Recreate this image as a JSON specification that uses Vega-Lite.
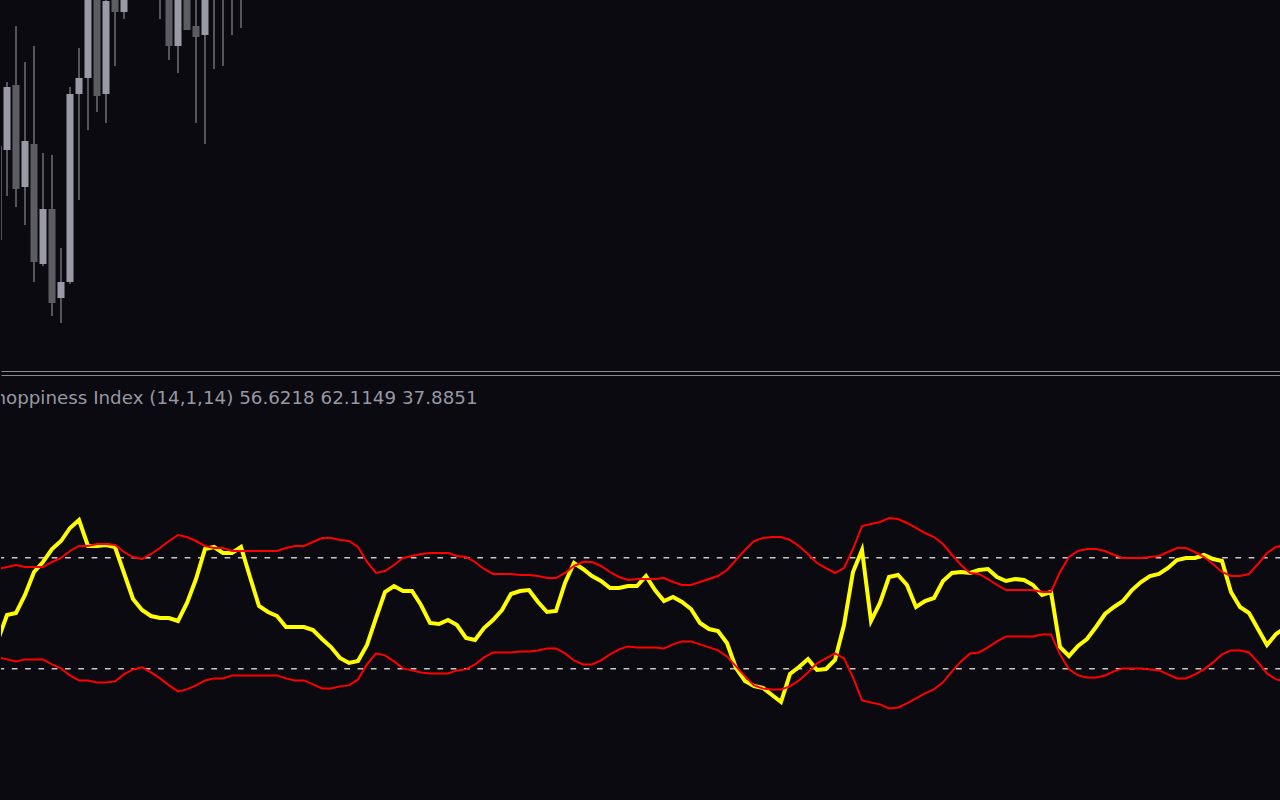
{
  "$schema": "https://vega.github.io/schema/vega-lite/v6.json",
  "background": "#0a0a10",
  "padding": 0,
  "spacing": 4,
  "bounds": "flush",
  "config": {"view": {"stroke": null}, "scale": {"continuousPadding": 0}},
  "datasets": {
    "candles": [
      {"i": -1, "open": 1.09260, "high": 1.09360, "low": 1.09255, "close": 1.09354},
      {"i": 0, "open": 1.09350, "high": 1.09418, "low": 1.09304, "close": 1.09413},
      {"i": 1, "open": 1.09415, "high": 1.09474, "low": 1.09293, "close": 1.09311},
      {"i": 2, "open": 1.09313, "high": 1.09438, "low": 1.09275, "close": 1.09359},
      {"i": 3, "open": 1.09356, "high": 1.09454, "low": 1.09218, "close": 1.09238},
      {"i": 4, "open": 1.09236, "high": 1.09347, "low": 1.09234, "close": 1.09291},
      {"i": 5, "open": 1.09291, "high": 1.09345, "low": 1.09184, "close": 1.09197},
      {"i": 6, "open": 1.09202, "high": 1.09252, "low": 1.09177, "close": 1.09218},
      {"i": 7, "open": 1.09218, "high": 1.09413, "low": 1.09216, "close": 1.09406},
      {"i": 8, "open": 1.09406, "high": 1.09452, "low": 1.09300, "close": 1.09422},
      {"i": 9, "open": 1.09422, "high": 1.09540, "low": 1.09370, "close": 1.09520},
      {"i": 10, "open": 1.09530, "high": 1.09560, "low": 1.09388, "close": 1.09404},
      {"i": 11, "open": 1.09406, "high": 1.09510, "low": 1.09377, "close": 1.09499},
      {"i": 12, "open": 1.09520, "high": 1.09540, "low": 1.09434, "close": 1.09488},
      {"i": 13, "open": 1.09488, "high": 1.09530, "low": 1.09481, "close": 1.09515},
      {"i": 14, "open": 1.09540, "high": 1.09600, "low": 1.09520, "close": 1.09580},
      {"i": 15, "open": 1.09580, "high": 1.09610, "low": 1.09530, "close": 1.09560},
      {"i": 16, "open": 1.09560, "high": 1.09620, "low": 1.09540, "close": 1.09590},
      {"i": 17, "open": 1.09560, "high": 1.09580, "low": 1.09481, "close": 1.09520},
      {"i": 18, "open": 1.09560, "high": 1.09580, "low": 1.09440, "close": 1.09454},
      {"i": 19, "open": 1.09454, "high": 1.09560, "low": 1.09427, "close": 1.09540},
      {"i": 20, "open": 1.09560, "high": 1.09580, "low": 1.09470, "close": 1.09470},
      {"i": 21, "open": 1.09474, "high": 1.09520, "low": 1.09377, "close": 1.09463},
      {"i": 22, "open": 1.09465, "high": 1.09550, "low": 1.09356, "close": 1.09530},
      {"i": 23, "open": 1.09540, "high": 1.09580, "low": 1.09431, "close": 1.09560},
      {"i": 24, "open": 1.09580, "high": 1.09600, "low": 1.09434, "close": 1.09550},
      {"i": 25, "open": 1.09560, "high": 1.09610, "low": 1.09465, "close": 1.09590},
      {"i": 26, "open": 1.09590, "high": 1.09620, "low": 1.09472, "close": 1.09570}
    ],
    "chop": [
      {"i": -1, "ci": 44.30, "up": 59.40, "dn": 40.60},
      {"i": 0, "ci": 49.62, "up": 59.82, "dn": 40.18},
      {"i": 1, "ci": 50.04, "up": 60.25, "dn": 39.75},
      {"i": 2, "ci": 53.87, "up": 59.82, "dn": 40.18},
      {"i": 3, "ci": 58.76, "up": 59.82, "dn": 40.18},
      {"i": 4, "ci": 60.89, "up": 59.82, "dn": 40.18},
      {"i": 5, "ci": 63.65, "up": 60.89, "dn": 39.11},
      {"i": 6, "ci": 65.35, "up": 61.74, "dn": 38.26},
      {"i": 7, "ci": 68.12, "up": 63.23, "dn": 36.77},
      {"i": 8, "ci": 69.82, "up": 64.29, "dn": 35.71},
      {"i": 9, "ci": 64.29, "up": 64.29, "dn": 35.71},
      {"i": 10, "ci": 64.29, "up": 64.71, "dn": 35.29},
      {"i": 11, "ci": 64.50, "up": 64.71, "dn": 35.29},
      {"i": 12, "ci": 64.08, "up": 64.50, "dn": 35.50},
      {"i": 13, "ci": 58.55, "up": 63.01, "dn": 36.99},
      {"i": 14, "ci": 53.02, "up": 61.95, "dn": 38.05},
      {"i": 15, "ci": 50.68, "up": 61.52, "dn": 38.48},
      {"i": 16, "ci": 49.40, "up": 62.59, "dn": 37.41},
      {"i": 17, "ci": 48.98, "up": 63.86, "dn": 36.14},
      {"i": 18, "ci": 48.98, "up": 65.35, "dn": 34.65},
      {"i": 19, "ci": 48.34, "up": 66.63, "dn": 33.37},
      {"i": 20, "ci": 52.17, "up": 66.20, "dn": 33.80},
      {"i": 21, "ci": 57.27, "up": 65.35, "dn": 34.65},
      {"i": 22, "ci": 63.65, "up": 64.29, "dn": 35.71},
      {"i": 23, "ci": 64.08, "up": 63.86, "dn": 36.14},
      {"i": 24, "ci": 62.80, "up": 63.86, "dn": 36.14},
      {"i": 25, "ci": 62.80, "up": 63.23, "dn": 36.77},
      {"i": 26, "ci": 64.08, "up": 63.23, "dn": 36.77},
      {"i": 27, "ci": 57.70, "up": 63.23, "dn": 36.77},
      {"i": 28, "ci": 51.53, "up": 63.23, "dn": 36.77},
      {"i": 29, "ci": 50.26, "up": 63.23, "dn": 36.77},
      {"i": 30, "ci": 49.40, "up": 63.23, "dn": 36.77},
      {"i": 31, "ci": 47.07, "up": 63.86, "dn": 36.14},
      {"i": 32, "ci": 47.07, "up": 64.29, "dn": 35.71},
      {"i": 33, "ci": 47.07, "up": 64.29, "dn": 35.71},
      {"i": 34, "ci": 46.43, "up": 65.14, "dn": 34.86},
      {"i": 35, "ci": 44.51, "up": 65.99, "dn": 34.01},
      {"i": 36, "ci": 42.81, "up": 65.99, "dn": 34.01},
      {"i": 37, "ci": 40.47, "up": 65.56, "dn": 34.44},
      {"i": 38, "ci": 39.41, "up": 65.35, "dn": 34.65},
      {"i": 39, "ci": 39.84, "up": 64.08, "dn": 35.92},
      {"i": 40, "ci": 43.24, "up": 60.89, "dn": 39.11},
      {"i": 41, "ci": 48.98, "up": 58.55, "dn": 41.45},
      {"i": 42, "ci": 54.51, "up": 58.97, "dn": 41.03},
      {"i": 43, "ci": 55.78, "up": 60.25, "dn": 39.75},
      {"i": 44, "ci": 54.72, "up": 61.74, "dn": 38.26},
      {"i": 45, "ci": 54.72, "up": 62.16, "dn": 37.84},
      {"i": 46, "ci": 51.74, "up": 62.59, "dn": 37.41},
      {"i": 47, "ci": 47.92, "up": 62.80, "dn": 37.20},
      {"i": 48, "ci": 47.70, "up": 62.80, "dn": 37.20},
      {"i": 49, "ci": 48.55, "up": 62.80, "dn": 37.20},
      {"i": 50, "ci": 47.49, "up": 62.16, "dn": 37.84},
      {"i": 51, "ci": 44.73, "up": 61.95, "dn": 38.05},
      {"i": 52, "ci": 44.30, "up": 60.89, "dn": 39.11},
      {"i": 53, "ci": 46.85, "up": 59.40, "dn": 40.60},
      {"i": 54, "ci": 48.55, "up": 58.34, "dn": 41.66},
      {"i": 55, "ci": 50.68, "up": 58.34, "dn": 41.66},
      {"i": 56, "ci": 54.08, "up": 58.34, "dn": 41.66},
      {"i": 57, "ci": 54.72, "up": 58.12, "dn": 41.88},
      {"i": 58, "ci": 54.93, "up": 58.12, "dn": 41.88},
      {"i": 59, "ci": 52.38, "up": 57.91, "dn": 42.09},
      {"i": 60, "ci": 50.26, "up": 57.48, "dn": 42.52},
      {"i": 61, "ci": 50.47, "up": 57.48, "dn": 42.52},
      {"i": 62, "ci": 56.42, "up": 58.55, "dn": 41.45},
      {"i": 63, "ci": 60.67, "up": 60.04, "dn": 39.96},
      {"i": 64, "ci": 59.40, "up": 60.89, "dn": 39.11},
      {"i": 65, "ci": 57.91, "up": 60.89, "dn": 39.11},
      {"i": 66, "ci": 56.85, "up": 60.04, "dn": 39.96},
      {"i": 67, "ci": 55.36, "up": 58.76, "dn": 41.24},
      {"i": 68, "ci": 55.36, "up": 57.70, "dn": 42.30},
      {"i": 69, "ci": 55.78, "up": 57.06, "dn": 42.94},
      {"i": 70, "ci": 55.78, "up": 57.27, "dn": 42.73},
      {"i": 71, "ci": 57.91, "up": 57.27, "dn": 42.73},
      {"i": 72, "ci": 54.93, "up": 57.27, "dn": 42.73},
      {"i": 73, "ci": 52.59, "up": 57.48, "dn": 42.52},
      {"i": 74, "ci": 53.44, "up": 56.63, "dn": 43.37},
      {"i": 75, "ci": 52.38, "up": 56.00, "dn": 44.00},
      {"i": 76, "ci": 50.89, "up": 56.00, "dn": 44.00},
      {"i": 77, "ci": 47.92, "up": 56.63, "dn": 43.37},
      {"i": 78, "ci": 46.64, "up": 57.27, "dn": 42.73},
      {"i": 79, "ci": 46.22, "up": 57.91, "dn": 42.09},
      {"i": 80, "ci": 43.66, "up": 59.19, "dn": 40.81},
      {"i": 81, "ci": 38.35, "up": 61.31, "dn": 38.69},
      {"i": 82, "ci": 35.58, "up": 63.44, "dn": 36.56},
      {"i": 83, "ci": 34.52, "up": 65.35, "dn": 34.65},
      {"i": 84, "ci": 34.10, "up": 65.99, "dn": 34.01},
      {"i": 85, "ci": 32.61, "up": 66.20, "dn": 33.80},
      {"i": 86, "ci": 31.12, "up": 66.20, "dn": 33.80},
      {"i": 87, "ci": 37.07, "up": 65.56, "dn": 34.44},
      {"i": 88, "ci": 38.56, "up": 64.29, "dn": 35.71},
      {"i": 89, "ci": 40.26, "up": 62.59, "dn": 37.41},
      {"i": 90, "ci": 37.92, "up": 60.67, "dn": 39.33},
      {"i": 91, "ci": 38.14, "up": 59.61, "dn": 40.39},
      {"i": 92, "ci": 40.05, "up": 58.55, "dn": 41.45},
      {"i": 93, "ci": 47.49, "up": 59.61, "dn": 40.39},
      {"i": 94, "ci": 58.76, "up": 63.65, "dn": 36.35},
      {"i": 95, "ci": 63.44, "up": 68.54, "dn": 31.46},
      {"i": 96, "ci": 48.34, "up": 68.97, "dn": 31.03},
      {"i": 97, "ci": 52.17, "up": 69.39, "dn": 30.61},
      {"i": 98, "ci": 57.70, "up": 70.24, "dn": 29.76},
      {"i": 99, "ci": 58.12, "up": 70.03, "dn": 29.97},
      {"i": 100, "ci": 56.00, "up": 69.18, "dn": 30.82},
      {"i": 101, "ci": 51.32, "up": 68.12, "dn": 31.88},
      {"i": 102, "ci": 52.59, "up": 67.05, "dn": 32.95},
      {"i": 103, "ci": 53.23, "up": 66.20, "dn": 33.80},
      {"i": 104, "ci": 56.85, "up": 64.71, "dn": 35.29},
      {"i": 105, "ci": 58.55, "up": 62.38, "dn": 37.62},
      {"i": 106, "ci": 58.76, "up": 60.25, "dn": 39.75},
      {"i": 107, "ci": 58.55, "up": 58.55, "dn": 41.45},
      {"i": 108, "ci": 59.19, "up": 58.34, "dn": 41.66},
      {"i": 109, "ci": 59.40, "up": 57.27, "dn": 42.73},
      {"i": 110, "ci": 57.70, "up": 56.00, "dn": 44.00},
      {"i": 111, "ci": 56.85, "up": 54.93, "dn": 45.07},
      {"i": 112, "ci": 57.27, "up": 54.93, "dn": 45.07},
      {"i": 113, "ci": 57.06, "up": 54.93, "dn": 45.07},
      {"i": 114, "ci": 56.00, "up": 54.93, "dn": 45.07},
      {"i": 115, "ci": 53.87, "up": 54.51, "dn": 45.49},
      {"i": 116, "ci": 54.51, "up": 54.51, "dn": 45.49},
      {"i": 117, "ci": 42.81, "up": 58.76, "dn": 41.24},
      {"i": 118, "ci": 40.90, "up": 61.95, "dn": 38.05},
      {"i": 119, "ci": 43.03, "up": 63.23, "dn": 36.77},
      {"i": 120, "ci": 44.51, "up": 63.65, "dn": 36.35},
      {"i": 121, "ci": 47.07, "up": 63.65, "dn": 36.35},
      {"i": 122, "ci": 49.83, "up": 63.23, "dn": 36.77},
      {"i": 123, "ci": 51.32, "up": 62.38, "dn": 37.62},
      {"i": 124, "ci": 52.59, "up": 61.74, "dn": 38.26},
      {"i": 125, "ci": 54.93, "up": 61.74, "dn": 38.26},
      {"i": 126, "ci": 56.63, "up": 61.74, "dn": 38.26},
      {"i": 127, "ci": 57.91, "up": 61.95, "dn": 38.05},
      {"i": 128, "ci": 58.34, "up": 62.16, "dn": 37.84},
      {"i": 129, "ci": 59.61, "up": 63.01, "dn": 36.99},
      {"i": 130, "ci": 61.31, "up": 63.86, "dn": 36.14},
      {"i": 131, "ci": 61.74, "up": 63.86, "dn": 36.14},
      {"i": 132, "ci": 61.74, "up": 63.01, "dn": 36.99},
      {"i": 133, "ci": 62.38, "up": 61.95, "dn": 38.05},
      {"i": 134, "ci": 61.52, "up": 60.46, "dn": 39.54},
      {"i": 135, "ci": 61.10, "up": 58.76, "dn": 41.24},
      {"i": 136, "ci": 54.51, "up": 57.91, "dn": 42.09},
      {"i": 137, "ci": 51.32, "up": 57.91, "dn": 42.09},
      {"i": 138, "ci": 50.04, "up": 58.34, "dn": 41.66},
      {"i": 139, "ci": 46.64, "up": 60.46, "dn": 39.54},
      {"i": 140, "ci": 43.24, "up": 62.80, "dn": 37.20},
      {"i": 141, "ci": 45.58, "up": 64.08, "dn": 35.92},
      {"i": 142, "ci": 46.85, "up": 64.50, "dn": 35.50}
    ],
    "levels": [{"lvl": 38.2}, {"lvl": 61.8}],
    "caption": [{"i": -2.82, "v": 94.48, "label": "Choppiness Index (14,1,14) 56.6218 62.1149 37.8851"}]
  },
  "vconcat": [
    {
      "width": 1280,
      "height": 371,
      "data": {"name": "candles"},
      "layer": [
        {
          "mark": {"type": "rule", "clip": true, "color": "#55555b", "strokeWidth": 2},
          "encoding": {
            "x": {"field": "i", "type": "quantitative", "scale": {"domain": [-0.6667, 141.5556], "nice": false, "zero": false, "padding": 0}, "axis": {"orient": "bottom", "labels": false, "ticks": false, "grid": false, "title": null, "domainColor": "#8a8a94", "domainWidth": 1}},
            "y": {"field": "high", "type": "quantitative", "scale": {"domain": [1.09129, 1.095], "nice": false, "zero": false}, "axis": null},
            "y2": {"field": "low"}
          }
        },
        {
          "mark": {"type": "bar", "clip": true, "width": 7},
          "encoding": {
            "x": {"field": "i", "type": "quantitative", "scale": {"domain": [-0.6667, 141.5556], "nice": false, "zero": false, "padding": 0}, "axis": {"orient": "bottom", "labels": false, "ticks": false, "grid": false, "title": null, "domainColor": "#8a8a94", "domainWidth": 1}},
            "y": {"field": "open", "type": "quantitative", "scale": {"domain": [1.09129, 1.095], "nice": false, "zero": false}, "axis": null},
            "y2": {"field": "close"},
            "color": {"condition": {"test": "datum.close >= datum.open", "value": "#9a9aa6"}, "value": "#5c5c62"}
          }
        }
      ]
    },
    {
      "width": 1280,
      "height": 425,
      "layer": [
        {
          "data": {"name": "levels"},
          "mark": {"type": "rule", "color": "#c8c8c8", "strokeWidth": 1.5, "strokeDash": [5.7, 7.6]},
          "encoding": {
            "y": {"field": "lvl", "type": "quantitative", "scale": {"domain": [10.28, 100.65], "nice": false, "zero": false}, "axis": null}
          }
        },
        {
          "data": {"name": "chop"},
          "mark": {"type": "line", "clip": true, "color": "#ffff00", "strokeWidth": 4},
          "encoding": {
            "x": {"field": "i", "type": "quantitative", "scale": {"domain": [-0.6667, 141.5556], "nice": false, "zero": false, "padding": 0}, "axis": {"orient": "top", "labels": false, "ticks": false, "grid": false, "title": null, "domainColor": "#8a8a94", "domainWidth": 1}},
            "y": {"field": "ci", "type": "quantitative", "scale": {"domain": [10.28, 100.65], "nice": false, "zero": false}, "axis": null}
          }
        },
        {
          "data": {"name": "chop"},
          "mark": {"type": "line", "clip": true, "color": "#ff0000", "strokeWidth": 2},
          "encoding": {
            "x": {"field": "i", "type": "quantitative", "scale": {"domain": [-0.6667, 141.5556], "nice": false, "zero": false, "padding": 0}, "axis": {"orient": "top", "labels": false, "ticks": false, "grid": false, "title": null, "domainColor": "#8a8a94", "domainWidth": 1}},
            "y": {"field": "up", "type": "quantitative", "scale": {"domain": [10.28, 100.65], "nice": false, "zero": false}, "axis": null}
          }
        },
        {
          "data": {"name": "chop"},
          "mark": {"type": "line", "clip": true, "color": "#ff0000", "strokeWidth": 2},
          "encoding": {
            "x": {"field": "i", "type": "quantitative", "scale": {"domain": [-0.6667, 141.5556], "nice": false, "zero": false, "padding": 0}, "axis": {"orient": "top", "labels": false, "ticks": false, "grid": false, "title": null, "domainColor": "#8a8a94", "domainWidth": 1}},
            "y": {"field": "dn", "type": "quantitative", "scale": {"domain": [10.28, 100.65], "nice": false, "zero": false}, "axis": null}
          }
        },
        {
          "data": {"name": "caption"},
          "mark": {"type": "text", "clip": true, "align": "left", "baseline": "alphabetic", "font": "DejaVu Sans", "fontSize": 18.3, "color": "#9898a4"},
          "encoding": {
            "x": {"field": "i", "type": "quantitative", "scale": {"domain": [-0.6667, 141.5556], "nice": false, "zero": false, "padding": 0}, "axis": {"orient": "top", "labels": false, "ticks": false, "grid": false, "title": null, "domainColor": "#8a8a94", "domainWidth": 1}},
            "y": {"field": "v", "type": "quantitative", "scale": {"domain": [10.28, 100.65], "nice": false, "zero": false}, "axis": null},
            "text": {"field": "label"}
          }
        }
      ]
    }
  ]
}
